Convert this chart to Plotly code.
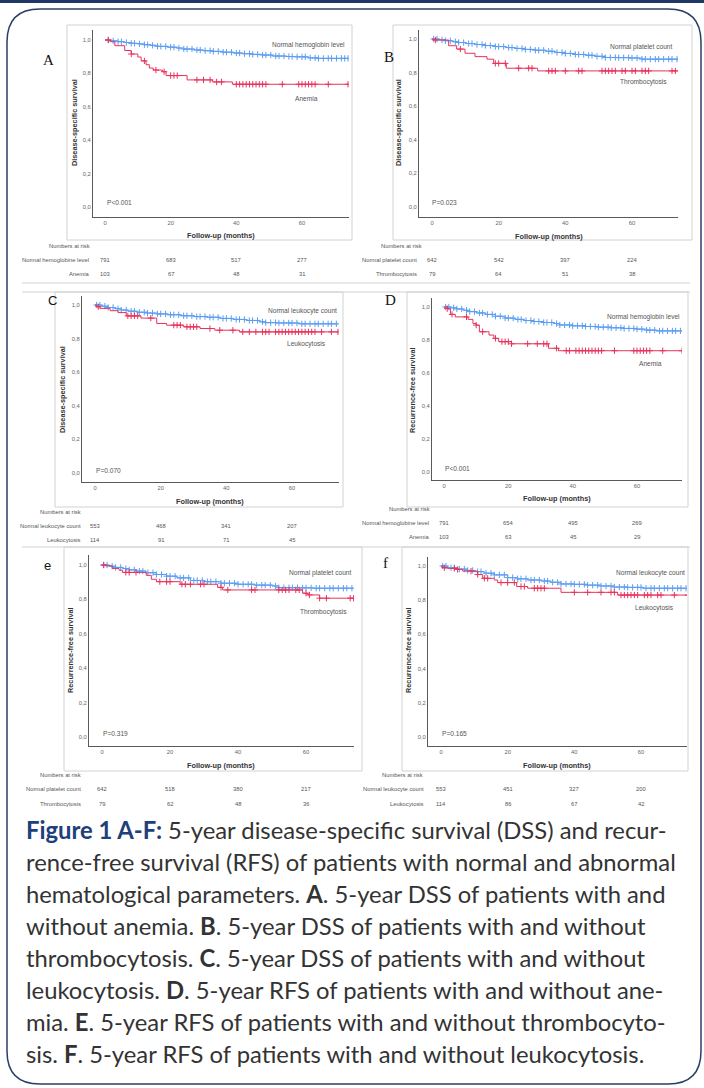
import numpy as np
import plotly.graph_objects as go

W, H = 704, 1088

# ---------------- data ----------------
month_ticks = [0, 20, 40, 60]
surv_ticks = [0.0, 0.2, 0.4, 0.6, 0.8, 1.0]
surv_tick_labels = ["0,0", "0,2", "0,4", "0,6", "0,8", "1,0"]

# Panel A: DSS, hemoglobin
a_norm_t = [0, 2, 4, 6, 8, 10, 12, 14, 16, 19, 22, 24, 27, 30, 33, 36, 39, 42, 45, 48, 51, 55, 58, 62, 65, 74]
a_norm_s = [1.0, .995, .99, .985, .98, .977, .972, .968, .962, .957, .952, .946, .94, .936, .932, .927, .922, .918, .914, .91, .904, .901, .899, .893, .89, .89]
a_norm_c = [1, 2.5, 4, 5, 6.5, 8, 9, 10.5, 12, 13, 14.5, 16, 17, 18.5, 20, 21, 22.5, 24, 25, 26.5, 28, 29, 30.5, 32, 33, 34.5, 36, 37, 38.5, 40, 41, 42.5, 44, 45, 46.5, 48, 49, 50.5, 52, 53, 54.5, 56, 57, 58.5, 60, 61, 62.5, 64, 65, 66.5, 68, 69, 70.5, 72, 73, 74]
a_abn_t = [0, 1.5, 3, 6, 8, 10, 11, 12.5, 13.5, 14.7, 17.5, 18.6, 25, 32.7, 38.8, 74]
a_abn_s = [1.0, .99, .966, .937, .916, .898, .875, .852, .832, .82, .81, .787, .761, .749, .735, .735]
a_abn_c = [1, 8, 12, 15.5, 18, 20, 21, 22, 28, 30, 32, 34, 35.5, 40, 41, 42, 43, 44, 45, 46, 47, 48, 49, 54, 59, 60, 61, 62, 63, 64, 68, 74]
a_norm_risk = [791, 683, 517, 277]
a_abn_risk = [103, 67, 48, 31]

# Panel B: DSS, platelets
b_norm_t = [0, 2, 4, 6, 8, 10, 13, 16, 19, 22, 25, 28, 31, 34, 37, 40, 43, 46, 49, 52, 56, 60, 63, 74]
b_norm_s = [1.0, .995, .99, .984, .979, .973, .967, .961, .955, .949, .944, .938, .933, .927, .92, .914, .908, .903, .897, .89, .889, .887, .88, .88]
b_norm_c = [0.5, 1.5, 3, 4, 5.5, 7, 8, 9.5, 11, 12, 13.5, 15, 16, 17.5, 19, 20, 21.5, 23, 24, 25.5, 27, 28, 29.5, 31, 32, 33.5, 35, 36, 37.5, 39, 40, 41.5, 43, 44, 45.5, 47, 48, 49.5, 51, 52, 53.5, 55, 56, 57.5, 59, 60, 61.5, 63, 64, 65.5, 67, 68, 69.5, 71, 72, 73.5]
b_abn_t = [0, 0.5, 5, 7.4, 9.9, 12.9, 16.5, 18.5, 22.3, 31.7, 74]
b_abn_s = [1.0, .994, .96, .94, .915, .895, .88, .855, .826, .81, .81]
b_abn_c = [1, 8.5, 19, 20, 22, 26, 29, 30, 35, 36, 37, 40, 44, 45, 51, 52, 53, 54, 55, 57, 58, 60, 61, 63, 64, 65, 72, 73]
b_norm_risk = [642, 542, 397, 224]
b_abn_risk = [79, 64, 51, 38]

# Panel C: DSS, leukocytes
c_norm_t = [0, 2, 4, 6, 8, 10, 13, 16, 19, 22, 26, 30, 34, 38, 42, 46, 50, 52, 56, 62, 74]
c_norm_s = [1.0, .993, .985, .978, .97, .963, .957, .952, .947, .942, .936, .931, .927, .92, .914, .908, .9, .895, .893, .888, .888]
c_norm_c = [0.5, 1.5, 3, 4, 5.5, 7, 8, 9.5, 11, 12, 13.5, 15, 16, 17.5, 19, 20, 21.5, 23, 24, 25.5, 27, 28, 29.5, 31, 32, 33.5, 35, 36, 37.5, 39, 40, 41.5, 43, 44, 45.5, 47, 48, 49.5, 51, 52, 53.5, 55, 56, 57.5, 59, 60, 61.5, 63, 64, 65.5, 67, 68, 69.5, 71, 72, 73.5]
c_abn_t = [0, 0.5, 1.5, 4.6, 7, 9.5, 14, 18.8, 21.8, 27, 32, 36.5, 44, 74]
c_abn_s = [1.0, .99, .98, .966, .955, .935, .922, .89, .88, .87, .86, .85, .84, .84]
c_abn_c = [1, 10, 11, 12, 13, 17, 24, 25, 26, 28, 29, 30, 31, 35, 38, 42, 45, 47, 49, 51, 52, 53, 55, 56, 57, 58, 59, 60, 61, 62, 63, 64, 65, 66, 67, 69, 72, 74]
c_norm_risk = [553, 468, 341, 207]
c_abn_risk = [114, 91, 71, 45]

# Panel D: RFS, hemoglobin
d_norm_t = [0, 2, 4, 6, 8, 10, 13, 16, 19, 22, 25, 28, 31, 34, 36, 40, 44, 48, 52, 56, 60, 63, 66, 74]
d_norm_s = [1.0, .995, .988, .98, .972, .964, .955, .944, .933, .925, .918, .912, .906, .9, .891, .886, .882, .878, .874, .87, .866, .86, .855, .852]
d_norm_c = [0.5, 1.5, 3, 4, 5.5, 7, 8, 9.5, 11, 12, 13.5, 15, 16, 17.5, 19, 20, 21.5, 23, 24, 25.5, 27, 28, 29.5, 31, 32, 33.5, 35, 36, 37.5, 39, 40, 41.5, 43, 44, 45.5, 47, 48, 49.5, 51, 52, 53.5, 55, 56, 57.5, 59, 60, 61.5, 63, 64, 65.5, 67, 68, 69.5, 71, 72, 73.5]
d_abn_t = [0, 1, 2, 3.5, 7.5, 9, 10, 11, 14, 15.5, 17, 21, 32.5, 35.6, 74]
d_abn_s = [1.0, .99, .955, .94, .925, .9, .89, .85, .83, .81, .79, .777, .75, .735, .735]
d_abn_c = [1, 2.5, 7, 10, 12, 16, 18, 19, 20, 21, 26, 29, 31, 32, 35, 38, 39, 41, 42, 43, 44, 45, 46, 47, 48, 49, 53, 59, 60, 61, 62, 63, 64, 68, 74]
d_norm_risk = [791, 654, 495, 269]
d_abn_risk = [103, 63, 45, 29]

# Panel E: RFS, platelets
e_norm_t = [0, 2, 4, 6, 8, 10, 13, 16, 19, 22, 26, 30, 35, 40, 45, 50, 52, 58, 62, 74]
e_norm_s = [1.0, .993, .986, .979, .972, .965, .955, .945, .935, .925, .91, .903, .894, .888, .883, .878, .868, .867, .865, .865]
e_norm_c = [0.5, 1.5, 3, 4, 5.5, 7, 8, 9.5, 11, 12, 13.5, 15, 16, 17.5, 19, 20, 21.5, 23, 24, 25.5, 27, 28, 29.5, 31, 32, 33.5, 35, 36, 37.5, 39, 40, 41.5, 43, 44, 45.5, 47, 48, 49.5, 51, 52, 53.5, 55, 56, 57.5, 59, 60, 61.5, 63, 64, 65.5, 67, 68, 69.5, 71, 72, 73.5]
e_abn_t = [0, 1, 3, 5, 6, 13, 14.5, 16, 23, 34, 35.5, 59, 60.5, 64, 74]
e_abn_s = [1.0, .995, .98, .97, .957, .94, .917, .903, .888, .87, .855, .836, .826, .807, .807]
e_abn_c = [0.5, 7, 8, 10, 17, 19, 20, 23.5, 24.5, 26, 29, 30, 35, 37, 44, 45, 52, 53, 54, 55, 57, 58, 60, 61, 64, 66, 73, 74]
e_norm_risk = [642, 518, 380, 217]
e_abn_risk = [79, 62, 48, 36]

# Panel F: RFS, leukocytes
f_norm_t = [0, 2, 5, 8, 10, 13, 16, 20, 23, 26, 30, 33, 36, 40, 44, 48, 52, 56, 60.5, 74]
f_norm_s = [1.0, .99, .982, .974, .967, .958, .948, .932, .925, .918, .912, .905, .895, .893, .888, .883, .877, .875, .87, .87]
f_norm_c = [0.5, 1.5, 3, 4, 5.5, 7, 8, 9.5, 11, 12, 13.5, 15, 16, 17.5, 19, 20, 21.5, 23, 24, 25.5, 27, 28, 29.5, 31, 32, 33.5, 35, 36, 37.5, 39, 40, 41.5, 43, 44, 45.5, 47, 48, 49.5, 51, 52, 53.5, 55, 56, 57.5, 59, 60, 61.5, 63, 64, 65.5, 67, 68, 69.5, 71, 72, 73.5]
f_abn_t = [0, 0.5, 2, 5, 6.5, 11, 12.5, 16, 17, 22.7, 26, 36, 53, 74]
f_abn_s = [1.0, .99, .986, .98, .97, .95, .928, .918, .903, .88, .87, .846, .83, .83]
f_abn_c = [1, 4, 5, 9, 11, 13, 14, 18, 20, 22, 24, 25, 28, 29, 30, 31, 40, 44, 48, 51, 52, 54, 55, 56, 57, 58, 59, 61, 62, 63, 65, 66, 70, 74]
f_norm_risk = [553, 451, 327, 200]
f_abn_risk = [114, 86, 67, 42]

caption_lines = [
    "<b><span style='color:#20407a'>Figure 1 A-F:</span></b> 5-year disease-specific survival (DSS) and recur-",
    "rence-free survival (RFS) of patients with normal and abnormal",
    "hematological parameters. <b>A</b>. 5-year DSS of patients with and",
    "without anemia. <b>B</b>. 5-year DSS of patients with and without",
    "thrombocytosis. <b>C</b>. 5-year DSS of patients with and without",
    "leukocytosis. <b>D</b>. 5-year RFS of patients with and without ane-",
    "mia. <b>E</b>. 5-year RFS of patients with and without thrombocyto-",
    "sis. <b>F</b>. 5-year RFS of patients with and without leukocytosis.",
]

# ---------------- layout geometry (pixels) ----------------
SERIF = "Liberation Serif"
SANS = "Liberation Sans"
panels = [
    dict(key="A", norm=(a_norm_t, a_norm_s, a_norm_c), abn=(a_abn_t, a_abn_s, a_abn_c),
         risk=(a_norm_risk, a_abn_risk), names=("Normal hemoglobin level", "Anemia"),
         rnames=("Normal hemoglobine level", "Anemia"), ytitle="Disease-specific survival", p="P<0.001",
         box=(93, 349, 30, 217), t0=105, t60=302, s1=40, s0=207,
         letter=("A", 48, 60, SERIF), yt=(75, 123), xt=(221, 235), nl=(347, 45), al=(306, 98),
         pl=(105, 202), hdr=(92, 246), rowx=91, rows=(260, 274)),
    dict(key="B", norm=(b_norm_t, b_norm_s, b_norm_c), abn=(b_abn_t, b_abn_s, b_abn_c),
         risk=(b_norm_risk, b_abn_risk), names=("Normal platelet count", "Thrombocytosis"),
         rnames=("Normal platelet count", "Thrombocytosis"), ytitle="Disease-specific survival", p="P=0.023",
         box=(419, 678, 30, 217), t0=432, t60=632, s1=39, s0=207,
         letter=("B", 389, 57, SERIF), yt=(399, 123), xt=(549, 236), nl=(674, 47), al=(643, 82),
         pl=(430, 203), hdr=(424, 246), rowx=419, rows=(260, 274)),
    dict(key="C", norm=(c_norm_t, c_norm_s, c_norm_c), abn=(c_abn_t, c_abn_s, c_abn_c),
         risk=(c_norm_risk, c_abn_risk), names=("Normal leukocyte count", "Leukocytosis"),
         rnames=("Normal leukocyte count", "Leukocytosis"), ytitle="Disease-specific survival", p="P=0.070",
         box=(82, 339, 296, 482), t0=95, t60=292, s1=305, s0=473,
         letter=("C", 52, 300, SANS), yt=(63, 390), xt=(210, 501), nl=(339, 311), al=(306, 344),
         pl=(94, 471), hdr=(83, 512), rowx=83, rows=(526, 540)),
    dict(key="D", norm=(d_norm_t, d_norm_s, d_norm_c), abn=(d_abn_t, d_abn_s, d_abn_c),
         risk=(d_norm_risk, d_abn_risk), names=("Normal hemoglobin level", "Anemia"),
         rnames=("Normal hemoglobine level", "Anemia"), ytitle="Recurrence-free survival", p="P<0.001",
         box=(432, 682, 298, 480), t0=444, t60=637, s1=307, s0=472,
         letter=("D", 390, 300, SERIF), yt=(413, 390), xt=(557, 498), nl=(682, 317), al=(650, 363),
         pl=(443, 468), hdr=(432, 509), rowx=431, rows=(523, 537)),
    dict(key="E", norm=(e_norm_t, e_norm_s, e_norm_c), abn=(e_abn_t, e_abn_s, e_abn_c),
         risk=(e_norm_risk, e_abn_risk), names=("Normal platelet count", "Thrombocytosis"),
         rnames=("Normal platelet count", "Thrombocytosis"), ytitle="Recurrence-free survival", p="P=0.319",
         box=(89, 354, 555, 746), t0=102, t60=306, s1=565, s0=737,
         letter=("e", 47, 565, SANS), yt=(70, 650), xt=(221, 765), nl=(353, 573), al=(323, 612),
         pl=(101, 733), hdr=(83, 775), rowx=83, rows=(789, 804)),
    dict(key="F", norm=(f_norm_t, f_norm_s, f_norm_c), abn=(f_abn_t, f_abn_s, f_abn_c),
         risk=(f_norm_risk, f_abn_risk), names=("Normal leukocyte count", "Leukocytosis"),
         rnames=("Normal leukocyte count", "Leukocytosis"), ytitle="Recurrence-free survival", p="P=0.165",
         box=(428, 687, 557, 746), t0=441, t60=641, s1=566, s0=737,
         letter=("f", 385, 563, SERIF), yt=(408, 650), xt=(557, 765), nl=(687, 573), al=(654, 608),
         pl=(440, 733), hdr=(425, 775), rowx=426, rows=(789, 804)),
]

BLUE = "#5b9df0"
RED = "#e8325c"
TXT = "#555555"


def px(x):
    return x / W


def py(y):
    return 1 - y / H


def step_value(t, s, c):
    t = np.asarray(t)
    s = np.asarray(s)
    idx = np.searchsorted(t, np.asarray(c), side="right") - 1
    return s[np.clip(idx, 0, len(s) - 1)]


fig = go.Figure()
annotations = []
shapes = []

for i, p in enumerate(panels):
    n = i + 1
    xa = "x" if n == 1 else f"x{n}"
    ya = "y" if n == 1 else f"y{n}"
    x0, x1, y0, y1 = p["box"]
    mslope = (p["t60"] - p["t0"]) / 60.0
    sslope = p["s0"] - p["s1"]
    xr = [(x0 - p["t0"]) / mslope, (x1 - p["t0"]) / mslope]
    yr = [(p["s0"] - y1) / sslope, (p["s0"] - y0) / sslope]
    axis_common = dict(showline=True, linecolor="#5a5a5a", linewidth=1, ticks="",
                       showgrid=False, zeroline=False, tickfont=dict(family=SANS, size=5.8, color="#666"))
    fig.layout[f"xaxis{'' if n == 1 else n}"] = dict(
        domain=[px(x0), px(x1)], range=xr, anchor=ya, tickvals=month_ticks, **axis_common)
    fig.layout[f"yaxis{'' if n == 1 else n}"] = dict(
        domain=[py(y1), py(y0)], range=yr, anchor=xa, tickvals=surv_ticks,
        ticktext=surv_tick_labels, **axis_common)

    for (t, s, c), col in ((p["norm"], BLUE), (p["abn"], RED)):
        fig.add_trace(go.Scatter(x=t, y=s, mode="lines", line=dict(color=col, width=1, shape="hv"),
                                 xaxis=xa, yaxis=ya, showlegend=False, hoverinfo="skip"))
        fig.add_trace(go.Scatter(x=c, y=step_value(t, s, c), mode="markers",
                                 marker=dict(symbol="cross-thin", size=4.5, line=dict(color=col, width=1)),
                                 xaxis=xa, yaxis=ya, showlegend=False, hoverinfo="skip"))

    def ann(x, y, text, size, anchor="center", color=TXT, family=SANS, angle=0):
        annotations.append(dict(x=px(x), y=py(y), xref="paper", yref="paper", text=text, showarrow=False,
                                xanchor=anchor, yanchor="middle", textangle=angle,
                                font=dict(family=family, size=size, color=color)))

    L, lx, ly, lf = p["letter"]
    ann(lx, ly, L, 15 if lf == SERIF else 13, color="#111", family=lf)
    ann(p["yt"][0], p["yt"][1], "<b>" + p["ytitle"] + "</b>", 7.3, color="#333", angle=-90)
    ann(p["xt"][0], p["xt"][1], "<b>Follow-up (months)</b>", 7.3, color="#333")
    ann(p["nl"][0], p["nl"][1], p["names"][0], 6.6, anchor="right")
    ann(p["al"][0], p["al"][1], p["names"][1], 6.6)
    ann(p["pl"][0], p["pl"][1], p["p"], 6.6, anchor="left")
    ann(p["hdr"][0], p["hdr"][1], "Numbers at risk", 5.8, anchor="right")
    for rname, ry, rvals in zip(p["rnames"], p["rows"], p["risk"]):
        ann(p["rowx"], ry, rname, 5.8, anchor="right")
        for m, v in zip(month_ticks, rvals):
            annotations.append(dict(x=m, y=py(ry), xref=xa, yref="paper", text=str(v), showarrow=False,
                                    xanchor="center", yanchor="middle",
                                    font=dict(family=SANS, size=5.8, color=TXT)))

# caption
for k, line in enumerate(caption_lines):
    annotations.append(dict(x=px(24), y=py(830 + 32 * k), xref="paper", yref="paper", text=line,
                            showarrow=False, xanchor="left", yanchor="middle",
                            font=dict(family="Lato", size=23.8, color="#333333")))

GREY = "#d2d2d2"


def line(xa_, ya_, xb_, yb_, color=GREY, width=1):
    shapes.append(dict(type="line", xref="paper", yref="paper", x0=px(xa_), y0=py(ya_), x1=px(xb_),
                       y1=py(yb_), line=dict(color=color, width=width)))


def rect(xa_, ya_, xb_, yb_):
    shapes.append(dict(type="rect", xref="paper", yref="paper", x0=px(xa_), y0=py(ya_), x1=px(xb_),
                       y1=py(yb_), line=dict(color=GREY, width=1), layer="below"))


rect(67, 25, 352, 240)
rect(393, 25, 692, 240)
line(22, 283, 690, 283)
line(22, 292, 690, 292)
rect(55, 292, 343, 507)
rect(407, 292, 688, 507)
line(22, 547, 690, 547)
rect(64, 547, 362, 771)
rect(402, 547, 688, 771)

# top navy band
shapes.append(dict(type="rect", xref="paper", yref="paper", x0=0, x1=1, y0=py(3), y1=1,
                   fillcolor="#1f3864", line=dict(width=0)))

# rounded border
Lb, Tb, Rb, Bb, r = 7, 9, 701, 1084, 33
pts = [("M", Lb, Tb + r), ("Q", Lb, Tb, Lb + r, Tb), ("L", Rb - r, Tb), ("Q", Rb, Tb, Rb, Tb + r),
       ("L", Rb, Bb - r), ("Q", Rb, Bb, Rb - r, Bb), ("L", Lb + r, Bb), ("Q", Lb, Bb, Lb, Bb - r)]
path = ""
for cmd, *vals in pts:
    coords = []
    for j in range(0, len(vals), 2):
        coords.append(f"{px(vals[j]):.5f},{py(vals[j + 1]):.5f}")
    path += cmd + " " + " ".join(coords) + " "
path += "Z"
shapes.append(dict(type="path", xref="paper", yref="paper", path=path,
                   line=dict(color="#2a3f66", width=1.5)))

fig.update_layout(width=W, height=H, margin=dict(l=0, r=0, t=0, b=0), paper_bgcolor="white",
                  plot_bgcolor="rgba(0,0,0,0)", annotations=annotations, shapes=shapes, showlegend=False)

fig.write_html("out.html")
